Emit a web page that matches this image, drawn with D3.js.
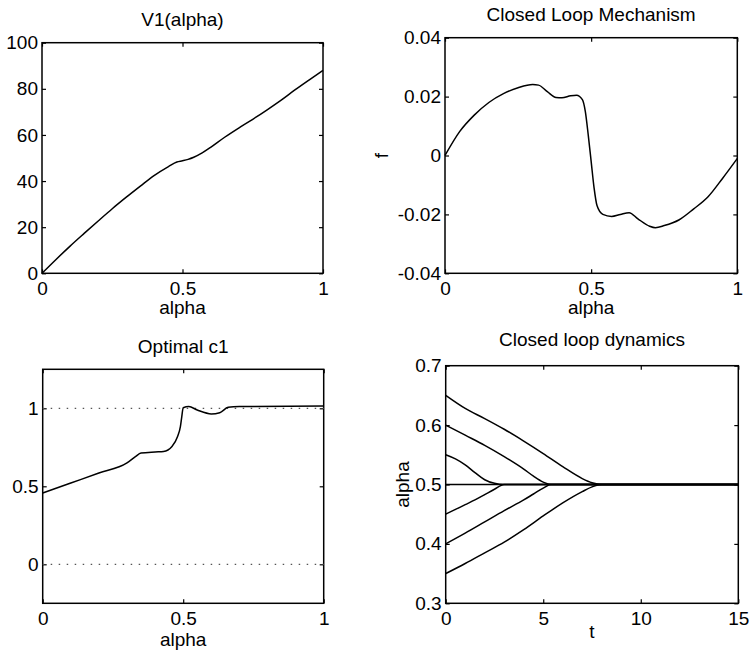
<!DOCTYPE html>
<html><head><meta charset="utf-8">
<script src="https://cdn.jsdelivr.net/npm/d3@7"></script>
<style>
body{margin:0;background:#fff;}
svg{display:block;}
text{font-family:"Liberation Sans",Arial,Helvetica,sans-serif;fill:#000;}
</style></head><body>
<svg id="c" width="752" height="654"></svg>
<script>
// ---------- data ----------
const v1Alpha = [0,0.05,0.1,0.15,0.2,0.25,0.3,0.35,0.4,0.45,0.48,0.5,0.52,0.54,0.57,0.6,0.65,0.7,0.75,0.8,0.85,0.9,0.95,1];
const v1Value = [0,6,11.8,17.3,22.7,28,33,37.8,42.5,46.3,48.3,48.8,49.4,50.3,52.2,54.6,59,63,66.8,70.8,75,79.5,83.8,88];

const fAlpha = [0,0.05,0.1,0.15,0.2,0.25,0.3,0.32,0.35,0.38,0.4,0.43,0.45,0.47,0.48,0.49,0.5,0.51,0.52,0.54,0.57,0.6,0.63,0.66,0.7,0.72,0.75,0.8,0.85,0.9,0.95,1];
const fValue = [0,0.0081,0.0137,0.018,0.021,0.023,0.0241,0.0239,0.0217,0.0197,0.0196,0.0203,0.0205,0.019,0.015,0.007,-0.002,-0.011,-0.017,-0.020,-0.0207,-0.020,-0.0194,-0.0215,-0.024,-0.0245,-0.0238,-0.0219,-0.0182,-0.014,-0.0077,-0.001];

const c1Alpha = [0,0.1,0.2,0.3,0.33,0.35,0.4,0.43,0.46,0.48,0.49,0.495,0.5,0.52,0.55,0.6,0.63,0.66,0.7,1];
const c1Value = [0.457,0.521,0.585,0.65,0.69,0.713,0.72,0.723,0.755,0.819,0.883,0.947,1.004,1.011,0.989,0.964,0.972,1.006,1.011,1.015];
const c1RefLines = [0,1];

const trajT065 = [0,1,2,3,4,5,6,7,7.5,8,15];
const trajA065 = [0.65,0.628,0.611,0.593,0.573,0.552,0.530,0.510,0.503,0.5,0.5];
const trajT060 = [0,1,2,3,4,4.5,5,5.4,15];
const trajA060 = [0.6,0.583,0.566,0.547,0.526,0.514,0.504,0.5,0.5];
const trajT055 = [0,0.5,1,1.5,2,2.5,3,15];
const trajA055 = [0.55,0.543,0.533,0.52,0.508,0.502,0.5,0.5];
const trajT050 = [0,15];
const trajA050 = [0.5,0.5];
const trajT045 = [0,0.5,1,1.5,2,2.5,3,15];
const trajA045 = [0.45,0.458,0.466,0.474,0.483,0.492,0.5,0.5];
const trajT040 = [0,1,2,3,4,4.5,5,5.4,15];
const trajA040 = [0.4,0.418,0.437,0.456,0.474,0.484,0.494,0.5,0.5];
const trajT035 = [0,1,2,3,4,5,6,7,7.5,8,15];
const trajA035 = [0.35,0.367,0.385,0.403,0.424,0.447,0.469,0.488,0.496,0.5,0.5];

const xTicksAlpha = [0,0.5,1];
const yTicksV1 = [0,20,40,60,80,100];
const yTicksF = [-0.04,-0.02,0,0.02,0.04];
const yTicksC1 = [0,0.5,1];
const xTicksT = [0,5,10,15];
const yTicksDyn = [0.3,0.4,0.5,0.6,0.7];

// ---------- layout ----------
const svg = d3.select("#c");
const FS = 19;

function panel(cfg){
  const g = svg.append("g");
  const x = d3.scaleLinear().domain(cfg.xd).range([cfg.l, cfg.r]);
  const y = d3.scaleLinear().domain(cfg.yd).range([cfg.b, cfg.t]);
  const tk = 4;
  const styleAxis = sel => {
    sel.select(".domain").remove();
    sel.selectAll("line").attr("stroke","#000").attr("stroke-width",1.2);
    sel.selectAll("text").style("font-size",FS+"px").attr("fill","#000")
       .style("font-family",'"Liberation Sans",Arial,Helvetica,sans-serif');
  };
  g.append("g").attr("transform",`translate(0,${cfg.b})`)
    .call(d3.axisBottom(x).tickValues(cfg.xt).tickSize(-tk).tickPadding(8).tickFormat(cfg.xf||d3.format("")))
    .call(styleAxis);
  g.append("g").attr("transform",`translate(${cfg.l},0)`)
    .call(d3.axisLeft(y).tickValues(cfg.yt).tickSize(-tk).tickPadding(4).tickFormat(cfg.yf||d3.format("")))
    .call(styleAxis);
  g.append("g").attr("transform",`translate(0,${cfg.t})`)
    .call(d3.axisTop(x).tickValues(cfg.xt).tickSize(-tk).tickFormat(""))
    .call(styleAxis);
  g.append("g").attr("transform",`translate(${cfg.r},0)`)
    .call(d3.axisRight(y).tickValues(cfg.yt).tickSize(-tk).tickFormat(""))
    .call(styleAxis);
  g.append("rect").attr("x",cfg.l).attr("y",cfg.t).attr("width",cfg.r-cfg.l).attr("height",cfg.b-cfg.t)
    .attr("fill","none").attr("stroke","#000").attr("stroke-width",1.5);
  g.append("text").attr("x",(cfg.l+cfg.r)/2).attr("y",cfg.titleY).attr("text-anchor","middle")
    .style("font-size",FS+"px").text(cfg.title);
  g.append("text").attr("x",(cfg.l+cfg.r)/2).attr("y",cfg.xlabY).attr("text-anchor","middle")
    .style("font-size",FS+"px").text(cfg.xlab);
  if(cfg.ylab){
    g.append("text").attr("transform",`translate(${cfg.ylabX},${(cfg.t+cfg.b)/2}) rotate(-90)`)
      .attr("text-anchor","middle").style("font-size",FS+"px").text(cfg.ylab);
  }
  return {g,x,y};
}

function drawLine(p, xs, ys, w){
  const pts = xs.map((d,i)=>[d, ys[i]]);
  p.g.append("path").datum(pts)
    .attr("d", d3.line().x(d=>p.x(d[0])).y(d=>p.y(d[1])).curve(d3.curveMonotoneX))
    .attr("fill","none").attr("stroke","#000").attr("stroke-width",w||1.5)
    .attr("stroke-linejoin","round");
}

const fmt = d => String(d);

// Panel 1
const p1 = panel({l:42,r:323,t:42.7,b:273.3,xd:[0,1],yd:[0,100],xt:xTicksAlpha,yt:yTicksV1,
  xf:fmt,yf:fmt,title:"V1(alpha)",titleY:26,xlab:"alpha",xlabY:314});
drawLine(p1, v1Alpha, v1Value);

// Panel 2
const p2 = panel({l:445,r:737.3,t:37.7,b:273.3,xd:[0,1],yd:[-0.04,0.04],xt:xTicksAlpha,yt:yTicksF,
  xf:fmt,yf:fmt,title:"Closed Loop Mechanism",titleY:21,xlab:"alpha",xlabY:314,ylab:"f",ylabX:388});
drawLine(p2, fAlpha, fValue);

// Panel 3
const p3 = panel({l:42.7,r:323.7,t:369.3,b:603.3,xd:[0,1],yd:[-0.25,1.25],xt:xTicksAlpha,yt:yTicksC1,
  xf:fmt,yf:fmt,title:"Optimal c1",titleY:353,xlab:"alpha",xlabY:646});
c1RefLines.forEach(v=>{
  p3.g.append("line").attr("x1",p3.x(0)).attr("x2",p3.x(1)).attr("y1",p3.y(v)).attr("y2",p3.y(v))
    .attr("stroke","#555").attr("stroke-width",1.2).attr("stroke-dasharray","1.5,6.5");
});
drawLine(p3, c1Alpha, c1Value);

// Panel 4
const p4 = panel({l:445.7,r:738.3,t:365.7,b:603.3,xd:[0,15],yd:[0.3,0.7],xt:xTicksT,yt:yTicksDyn,
  xf:fmt,yf:d3.format(".1f"),title:"Closed loop dynamics",titleY:346,xlab:"t",xlabY:638,ylab:"alpha",ylabX:409});
[[trajT065,trajA065],[trajT060,trajA060],[trajT055,trajA055],[trajT050,trajA050],
 [trajT045,trajA045],[trajT040,trajA040],[trajT035,trajA035]].forEach(([t,a])=>drawLine(p4,t,a));
</script>
</body></html>
